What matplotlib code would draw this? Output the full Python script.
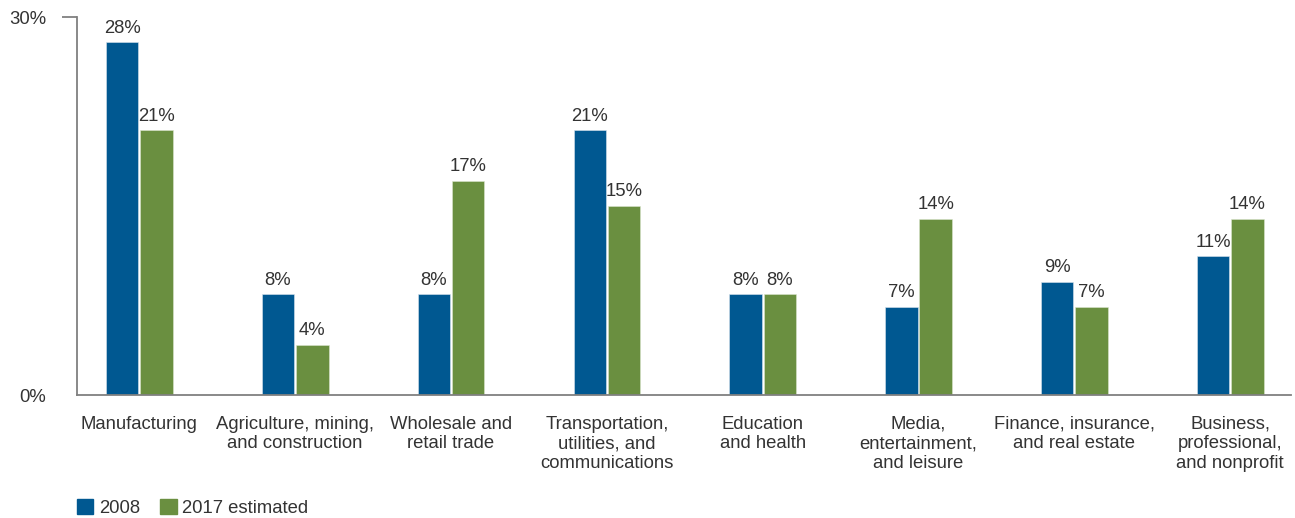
import numpy as np
import matplotlib.pyplot as plt
from matplotlib.patches import Patch

plt.rcParams['font.family'] = ['Liberation Sans', 'DejaVu Sans']

# Dados por setor
categorias = [
    "Manufacturing",
    "Agriculture, mining,\nand construction",
    "Wholesale and\nretail trade",
    "Transportation,\nutilities, and\ncommunications",
    "Education\nand health",
    "Media,\nentertainment,\nand leisure",
    "Finance, insurance,\nand real estate",
    "Business,\nprofessional,\nand nonprofit",
]
v2008 = [28, 8, 8, 21, 8, 7, 9, 11]
v2017 = [21, 4, 17, 15, 8, 14, 7, 14]

azul = "#005891"
verde = "#6A8F40"
texto = "#333333"
eixo = "#808080"
fs = 13.3

fig = plt.figure(figsize=(12.95, 5.18), dpi=100)
ax = fig.add_axes([77 / 1295, 1 - 395 / 518, (1291 - 77) / 1295, 378 / 518])

x = np.arange(len(categorias))
w = 0.208
off = 0.11
b1 = ax.bar(x - off, v2008, w, color=azul, edgecolor="#d9e4ee", linewidth=0.4)
b2 = ax.bar(x + off, v2017, w, color=verde, edgecolor="#dbe6cf", linewidth=0.4)

# Rótulos de valor
for barras, vals in ((b1, v2008), (b2, v2017)):
    for b, v in zip(barras, vals):
        ax.annotate(f"{v}%", (b.get_x() + b.get_width() / 2, v),
                    xytext=(0, 4), textcoords="offset points",
                    ha="center", va="bottom", fontsize=fs, color=texto)

ax.set_xlim(-0.40, 7.39)
ax.set_ylim(0, 30)

ax.set_xticks(x)
ax.set_xticklabels(categorias, fontsize=fs, color=texto, linespacing=1.2, va="top")
ax.tick_params(axis="x", length=0, pad=15)

ax.set_yticks([0, 30])
ax.set_yticklabels(["0%", "30%"], fontsize=fs, color=texto)
ax.tick_params(axis="y", length=11, width=1.3, color=eixo, pad=11)
ax.yaxis.get_major_ticks()[0].tick1line.set_visible(False)

for lado in ("top", "right"):
    ax.spines[lado].set_visible(False)
for lado in ("left", "bottom"):
    ax.spines[lado].set_color(eixo)
    ax.spines[lado].set_linewidth(1.3)

# Legenda
handles = [Patch(color=azul, label="2008"), Patch(color=verde, label="2017 estimated")]
leg = fig.legend(handles=handles, loc="lower left", bbox_to_anchor=(60 / 1295, -0.03),
                 ncol=2, frameon=False, fontsize=fs, handlelength=0.9, handleheight=0.9,
                 handletextpad=0.3, columnspacing=1.1)
for t in leg.get_texts():
    t.set_color(texto)

fig.savefig("out.png", dpi=100)
